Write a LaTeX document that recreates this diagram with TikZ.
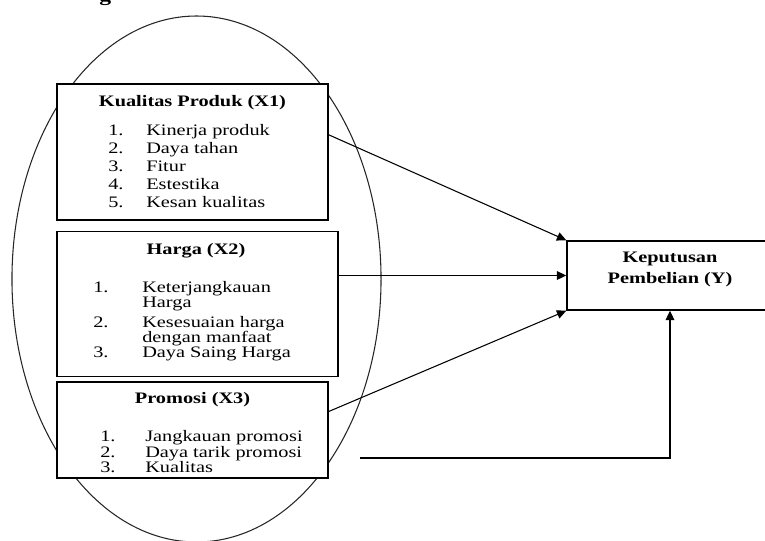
\documentclass[tikz,border=0pt]{standalone}
\usepackage{fontspec}
\setmainfont{Liberation Serif}[FakeStretch=1.27]
\usetikzlibrary{calc,arrows.meta}
\begin{document}
\begin{tikzpicture}[x=0.75pt,y=-0.75pt,
  box/.style={draw,line width=1.1pt,inner sep=0pt},
  txt/.style={anchor=base west,inner sep=0pt,font=\fontsize{12pt}{14pt}\selectfont},
  ttl/.style={anchor=base,inner sep=0pt,font=\fontsize{12pt}{14pt}\selectfont\bfseries},
  arr/.style={-{Triangle[length=7pt,width=6.5pt]},line width=0.8pt}
]
\useasboundingbox (0,0) rectangle (765,540);
% cut-off heading fragment
\node[anchor=base west,inner sep=0pt,font=\fontsize{14pt}{16pt}\selectfont\bfseries] (hd) at (99,1) {g};
% ellipse
\draw[line width=0.8pt,black!85] (196.5,279) ellipse [x radius=138.4pt, y radius=197.25pt];
% boxes
\node[box,fill=white,minimum width=203.25pt,minimum height=102pt] (x1) at (192.5,152) {};
\node[box,fill=white,minimum width=210.75pt,minimum height=108.75pt] (x2) at (197.5,304) {};
\node[box,fill=white,minimum width=203.25pt,minimum height=72pt] (x3) at (192.5,430) {};
\node[box,fill=white,minimum width=154.5pt,minimum height=51.75pt] (y) at (670,275.5) {};
% X1 texts
\node[ttl] (t1) at (192.5,106) {Kualitas Produk (X1)};
\node[txt] (a1n) at (108,135) {1.}; \node[txt] (a1) at (146,135) {Kinerja produk};
\node[txt] (a2n) at (108,153) {2.}; \node[txt] (a2) at (146,153) {Daya tahan};
\node[txt] (a3n) at (108,171) {3.}; \node[txt] (a3) at (146,171) {Fitur};
\node[txt] (a4n) at (108,189) {4.}; \node[txt] (a4) at (146,189) {Estestika};
\node[txt] (a5n) at (108,207) {5.}; \node[txt] (a5) at (146,207) {Kesan kualitas};
% X2 texts
\node[ttl] (t2) at (196,254) {Harga (X2)};
\node[txt] (b1n) at (93,292) {1.}; \node[txt] (b1) at (142,292) {Keterjangkauan};
\node[txt] (b1c) at (142,307) {Harga};
\node[txt] (b2n) at (93,327) {2.}; \node[txt] (b2) at (142,327) {Kesesuaian harga};
\node[txt] (b2c) at (142,342) {dengan manfaat};
\node[txt] (b3n) at (93,357) {3.}; \node[txt] (b3) at (142,357) {Daya Saing Harga};
% X3 texts
\node[ttl] (t3) at (192.5,403) {Promosi (X3)};
\node[txt] (c1n) at (100,441) {1.}; \node[txt] (c1) at (145,441) {Jangkauan promosi};
\node[txt] (c2n) at (100,457) {2.}; \node[txt] (c2) at (145,457) {Daya tarik promosi};
\node[txt] (c3n) at (100,472) {3.}; \node[txt] (c3) at (145,472) {Kualitas};
% Y texts
\node[ttl] (ty1) at (670,262) {Keputusan};
\node[ttl] (ty2) at (670,283) {Pembelian (Y)};
% connectors
\draw[arr] ($(x1.north east)!0.375!(x1.south east)$) -- (y.north west);
\draw[arr] (x2.east |- y.west) -- (y.west);
\draw[arr] ($(x3.north east)!0.31!(x3.south east)$) -- (y.south west);
\coordinate (fb) at (360,458);
\draw[arr] (fb) -| (y.south);
\end{tikzpicture}
\end{document}
